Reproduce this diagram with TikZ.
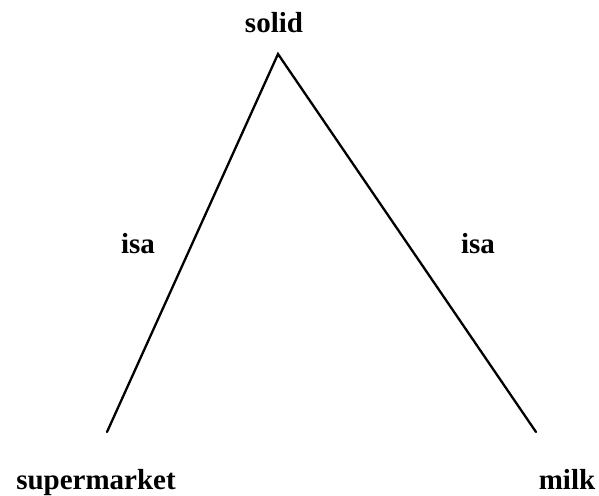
\documentclass[tikz,border=0pt]{standalone}
\usepackage{fontspec}
\setmainfont{Liberation Serif}
\usetikzlibrary{positioning}

\begin{document}
\begin{tikzpicture}[x=1pt,y=-1pt,every node/.style={font=\bfseries\fontsize{29}{34}\selectfont,inner sep=0pt}]
\tikzstyle{link}=[line width=2.3pt,line cap=round,line join=miter]
\useasboundingbox (0,0) rectangle (599,495);
\node[anchor=base] (solid) at (274,33) {solid};
\node[anchor=base] (supermarket) at (96,489) {supermarket};
\node[anchor=base] (milk) at (567,489) {milk};
\coordinate (top) at (278,54);
\coordinate (leftend) at (107,432);
\coordinate (rightend) at (536,432);
\node[anchor=base] (isaleft) at (138,253) {isa};
\node[anchor=base] (isaright) at (478,253) {isa};
\draw[link] (leftend) -- (top) -- (rightend);
\end{tikzpicture}
\end{document}
